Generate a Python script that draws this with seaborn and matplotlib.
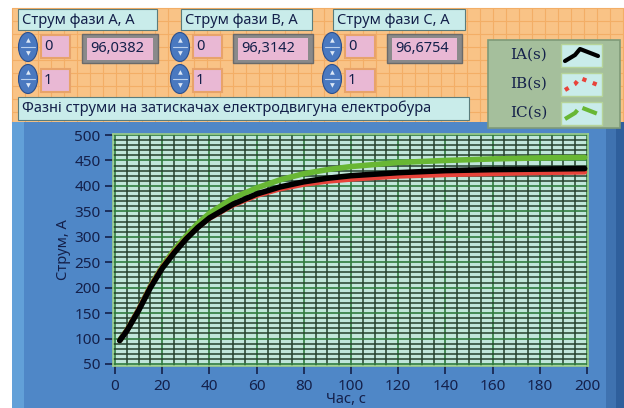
import numpy as np
import pandas as pd
import matplotlib
matplotlib.use("Agg")
import matplotlib.pyplot as plt
import seaborn as sns
from matplotlib.patches import Rectangle, Ellipse
from matplotlib.lines import Line2D
from matplotlib.ticker import MultipleLocator

# --- data ---
t = [2, 5, 10, 15, 20, 25, 30, 35, 40, 50, 60, 70, 80, 90, 100, 120, 140, 160, 180, 199]
ia = [96, 115, 155, 200, 238, 268, 295, 318, 337, 364, 384, 398, 408, 415, 420, 426, 430, 432, 433, 434]
ib = [96, 116, 157, 202, 240, 270, 296, 318, 336, 362, 381, 394, 403, 409, 413, 419, 422, 424, 426, 427]
ic = [97, 116, 157, 203, 242, 274, 301, 326, 346, 376, 396, 412, 424, 432, 438, 446, 450, 453, 455, 456]

series_names = ["IA(s)", "IB(s)", "IC(s)"]
series_colors = {"IA(s)": "#000000", "IB(s)": "#e8433a", "IC(s)": "#68b734"}
phase_titles = ["Струм фази А, А", "Струм фази B, А", "Струм фази C, А"]
phase_values = ["96,0382", "96,3142", "96,6754"]
caption = "Фазні струми на затискачах електродвигуна електробура"
x_ticks = list(range(0, 201, 20))
y_ticks = list(range(50, 501, 50))

df = pd.DataFrame({
    "t": t * 3,
    "I": ia + ib + ic,
    "phase": ["IA(s)"] * len(t) + ["IB(s)"] * len(t) + ["IC(s)"] * len(t),
})

W, H = 624, 408
sns.set_style("white")
plt.rcParams["font.family"] = ["Noto Sans", "DejaVu Sans"]
fig = plt.figure(figsize=(W / 100, H / 100), dpi=100)
fig.patch.set_facecolor("white")

TXT = "#14204a"


def box(x0, y0, x1, y1, **kw):
    r = Rectangle((x0 / W, 1 - y1 / H), (x1 - x0) / W, (y1 - y0) / H,
                  transform=fig.transFigure, **kw)
    fig.patches.append(r)


def ftext(x, y, s, **kw):
    fig.text(x / W, 1 - y / H, s, **kw)


# --- orange front panel with grid ---
box(12, 8, 624, 123, facecolor="#f9c386", edgecolor="none", zorder=0)
for gx in range(12, 624, 13):
    fig.add_artist(Line2D([gx / W, gx / W], [1 - 123 / H, 1 - 8 / H], color="#f3ae66",
                          lw=0.8, transform=fig.transFigure, zorder=0.1))
for gy in range(8, 123, 13):
    fig.add_artist(Line2D([12 / W, 1], [1 - gy / H, 1 - gy / H], color="#f3ae66",
                          lw=0.8, transform=fig.transFigure, zorder=0.1))

# --- blue graph panel ---
box(12, 122, 624, 408, facecolor="#4f87c7", edgecolor="none", zorder=0.2)
box(12, 122, 24, 408, facecolor="#62a0d8", edgecolor="none", zorder=0.3)
box(606, 122, 624, 408, facecolor="#3f72b0", edgecolor="none", zorder=0.3)
box(616, 122, 624, 408, facecolor="#2f5f9c", edgecolor="none", zorder=0.3)

# --- numeric controls ---
groups = [
    dict(label=(18, 157), spin=18, idx=(41, 70), disp=(82, 158)),
    dict(label=(181, 312), spin=170, idx=(193, 222), disp=(233, 313)),
    dict(label=(333, 465), spin=322, idx=(345, 375), disp=(387, 462)),
]
for g, title, val in zip(groups, phase_titles, phase_values):
    lx0, lx1 = g["label"]
    box(lx0, 9, lx1, 30, facecolor="#c9ecea", edgecolor="#5a7c7c", lw=0.8, zorder=1)
    ftext(lx0 + 4, 20, title, fontsize=10.5, color=TXT, va="center", zorder=2)
    sx = g["spin"]
    for cy in (47, 79):
        e = Ellipse(((sx + 10) / W, 1 - cy / H), 19 / W, 29 / H, transform=fig.transFigure,
                    facecolor="#4a79c0", edgecolor="#2a4f8e", lw=0.8, zorder=1)
        fig.patches.append(e)
        fig.add_artist(Line2D([(sx + 3) / W, (sx + 17) / W], [1 - cy / H, 1 - cy / H],
                              color="#b9d0ee", lw=0.8, transform=fig.transFigure, zorder=2))
        ftext(sx + 10, cy - 6, "▲", fontsize=4.5, color="#dce8f7", ha="center", va="center",
              family="DejaVu Sans", zorder=2)
        ftext(sx + 10, cy + 7, "▼", fontsize=4.5, color="#dce8f7", ha="center", va="center",
              family="DejaVu Sans", zorder=2)
    ix0, ix1 = g["idx"]
    box(ix0, 35, ix1, 58, facecolor="#e9b8d4", edgecolor="#e8a36a", lw=1.5, zorder=1)
    ftext(ix0 + 3, 46, "0", fontsize=10.5, color=TXT, va="center", zorder=2)
    box(ix0, 69, ix1, 92, facecolor="#e9b8d4", edgecolor="#e8a36a", lw=1.5, zorder=1)
    ftext(ix0 + 3, 80, "1", fontsize=10.5, color=TXT, va="center", zorder=2)
    dx0, dx1 = g["disp"]
    box(dx0, 34, dx1, 63, facecolor="#8a8a8a", edgecolor="#6a6a6a", lw=1, zorder=1)
    box(dx0 + 5, 38, dx1 - 5, 60, facecolor="#e9b8d4", edgecolor="none", zorder=1.5)
    ftext(dx0 + 8, 49, val, fontsize=10.5, color=TXT, va="center", zorder=2)

box(18, 97, 469, 120, facecolor="#c9ecea", edgecolor="#5a7c7c", lw=0.8, zorder=1)
ftext(22, 108, caption, fontsize=10.5, color=TXT, va="center", zorder=2)

# --- plot area ---
ax = fig.add_axes([113 / W, 1 - 366 / H, (588 - 113) / W, (366 - 134) / H], zorder=3)
ax.set_facecolor("#c0e6da")
for name in ["IC(s)", "IB(s)", "IA(s)"]:
    sub = df[df["phase"] == name]
    sns.lineplot(data=sub, x="t", y="I", ax=ax, color=series_colors[name],
                 lw=4.0 if name != "IB(s)" else 3.6, legend=False, zorder=5)

ax.set_xlim(-0.85, 200.4)
ax.set_ylim(46, 502)
ax.set_xticks(x_ticks)
ax.set_yticks(y_ticks)
ax.xaxis.set_minor_locator(MultipleLocator(5))
ax.yaxis.set_minor_locator(MultipleLocator(10))
ax.grid(which="minor", color="#243f2c", lw=1.1, zorder=1)
ax.grid(which="major", color="#2f7a3e", lw=1.2, zorder=1)
ax.set_axisbelow(True)
for sp in ax.spines.values():
    sp.set_color("#9ccf8a")
    sp.set_linewidth(1.2)
ax.tick_params(axis="both", which="major", direction="out", length=6, width=1.2,
               color=TXT, labelcolor=TXT, labelsize=11, pad=3, left=True, bottom=True)
ax.tick_params(which="minor", length=0)
ax.set_xlabel("Час, с", fontsize=10.5, color=TXT, va="top")
ax.xaxis.set_label_coords(0.49, -(392 - 366) / (366 - 134))
ax.set_ylabel("Струм, А", fontsize=10.5, color=TXT, labelpad=2)

# --- plot legend ---
box(488, 40, 620, 128, facecolor="#a5bf9c", edgecolor="#7f9a78", lw=1.2, zorder=6)
for i, name in enumerate(series_names):
    cy = 55 + i * 29
    ftext(510, cy, name, fontsize=11, color=TXT, va="center", family="DejaVu Serif", zorder=7)
    box(561, cy - 11, 602, cy + 12, facecolor="#c9ecea", edgecolor="#b6d49a", lw=1, zorder=7)
    ls = {"IA(s)": "-", "IB(s)": ":", "IC(s)": "--"}[name]
    xs = np.array([565, 575, 580, 598]) / W
    ys = 1 - np.array([cy + 6, cy, cy - 6, cy + 1]) / H
    fig.add_artist(Line2D(xs, ys, color=series_colors[name], lw=3, ls=ls,
                          transform=fig.transFigure, zorder=8))

fig.savefig("out.png", dpi=100)
